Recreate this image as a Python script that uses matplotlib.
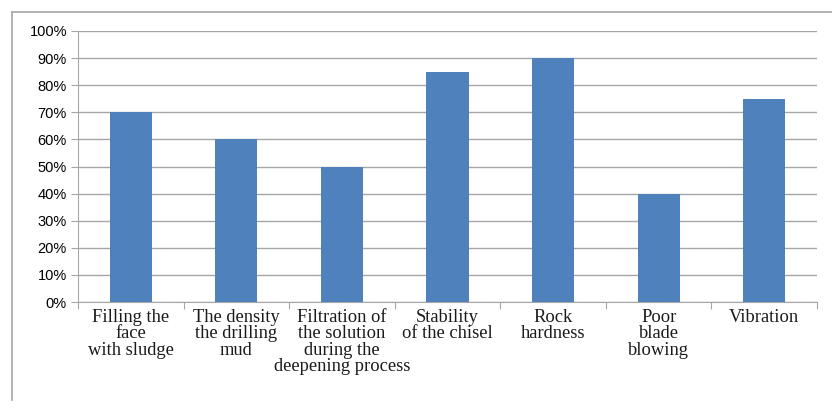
import matplotlib
matplotlib.use("Agg")
import matplotlib.pyplot as plt
from matplotlib.lines import Line2D
from matplotlib.ticker import PercentFormatter, MultipleLocator
import numpy as np

categories = ["Filling the\nface\nwith sludge",
              "The density\nthe drilling\nmud",
              "Filtration of\nthe solution\nduring the\ndeepening process",
              "Stability\nof the chisel",
              "Rock\nhardness",
              "Poor\nblade\nblowing",
              "Vibration"]
values = [70, 60, 50, 85, 90, 40, 75]

fig = plt.figure(figsize=(8.32, 4.08), dpi=100)
ax = fig.add_axes([78/832, 1-302/408, (817-78)/832, (302-31)/408])

x = np.arange(len(categories))
ax.bar(x, values, width=0.4, color="#4F81BD", zorder=3)

ax.set_xlim(-0.5, len(categories)-0.5)
ax.set_ylim(0, 100)
ax.yaxis.set_major_locator(MultipleLocator(10))
ax.yaxis.set_major_formatter(PercentFormatter(decimals=0))
ax.grid(axis="y", color="#a6a6a6", linewidth=1.0, zorder=0)

for s in ["top", "right"]:
    ax.spines[s].set_visible(False)
for s in ["left", "bottom"]:
    ax.spines[s].set_color("#a6a6a6")

ax.set_xticks(np.arange(len(categories)+1)-0.5, minor=False)
ax.set_xticklabels([])
ax.set_xticks(x, minor=True)
ax.set_xticklabels(categories, minor=True, family="Liberation Serif",
                   fontsize=13.3, linespacing=0.95, va="top", color="#1a1a1a")
ax.tick_params(axis="x", which="major", length=5, color="#a6a6a6")
ax.tick_params(axis="x", which="minor", length=0, pad=5)
ax.tick_params(axis="y", length=5, color="#a6a6a6", labelsize=10.5, pad=3)
for lbl in ax.get_yticklabels():
    lbl.set_family("Liberation Sans")

# outer chart frame
fig.add_artist(Line2D([12/832, 1], [1-12/408, 1-12/408], color="#a6a6a6", lw=1.2))
fig.add_artist(Line2D([12/832, 12/832], [1-12/408, 1-400/408], color="#a6a6a6", lw=1.2))

fig.savefig("out.png", dpi=100)
